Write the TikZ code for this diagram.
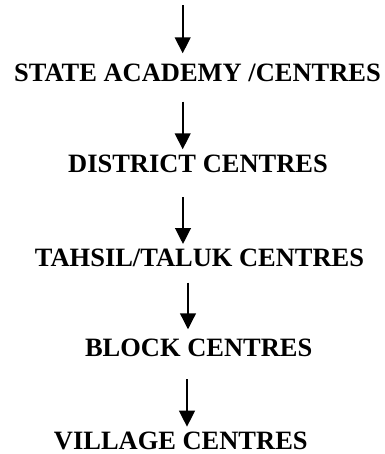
\documentclass[tikz,border=0pt]{standalone}
\usepackage{fontspec}
\setmainfont{Liberation Serif}
\usetikzlibrary{arrows.meta}
\begin{document}
\begin{tikzpicture}[x=0.75pt,y=-0.75pt,
  level/.style={anchor=base,inner sep=0pt,font=\fontsize{19.85pt}{22pt}\selectfont\bfseries},
  arr/.style={line width=1.5pt,-{Triangle[length=12pt,width=11.8pt]}}]
\useasboundingbox (0,0) rectangle (385,454);
% text levels
\node[level] (state) at (197.5,81) {STATE ACADEMY /CENTRES};
\node[level] (district) at (198,172.7) {DISTRICT CENTRES};
\node[level] (tahsil) at (199.5,266) {TAHSIL/TALUK CENTRES};
\node[level] (block) at (198.7,356.7) {BLOCK CENTRES};
\node[level] (village) at (180.8,449) {VILLAGE CENTRES};
% arrow end points
\coordinate (s0) at (182.7,5);     \coordinate (e0) at (182.7,53.3);
\coordinate (s1) at (182.7,101.7); \coordinate (e1) at (182.7,149.3);
\coordinate (s2) at (183,197.3);   \coordinate (e2) at (183,244);
\coordinate (s3) at (188,282.7);   \coordinate (e3) at (188,329.3);
\coordinate (s4) at (187,379.3);   \coordinate (e4) at (187,426.7);
\draw[arr] (s0) -- (e0);
\draw[arr] (s1) -- (e1);
\draw[arr] (s2) -- (e2);
\draw[arr] (s3) -- (e3);
\draw[arr] (s4) -- (e4);
\end{tikzpicture}
\end{document}
